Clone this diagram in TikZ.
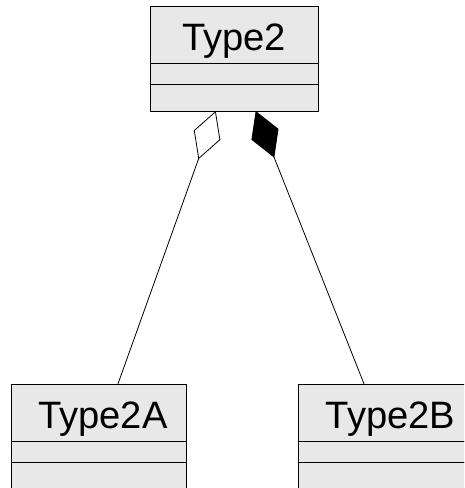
\documentclass[tikz,border=0pt]{standalone}
\usepackage{fontspec}
\setmainfont{Liberation Sans}
\usetikzlibrary{positioning,arrows.meta}
\definecolor{boxgray}{RGB}{232,232,232}

\begin{document}
\begin{tikzpicture}[
    classname/.style={draw, fill=boxgray, line width=0.8pt, outer sep=0pt, inner sep=0pt,
      minimum height=1.995cm, text height=1.1cm, text depth=0cm, font=\fontsize{38}{40}\selectfont},
    attrs/.style={draw, fill=boxgray, line width=0.8pt, outer sep=0pt, minimum height=0.735cm},
    ops/.style={draw, fill=boxgray, line width=0.8pt, outer sep=0pt, minimum height=0.945cm}
  ]
    \clip (0, 0) rectangle (16.24, 17.08);

    \node[classname, minimum width=5.88cm] (T) at (8.19, 15.8725) {Type2};
    \node[attrs, minimum width=5.88cm, below=0pt of T] (Tatt) {};
    \node[ops, minimum width=5.88cm, below=0pt of Tatt] (Tops) {};

    \node[classname, minimum width=6.125cm] (TA) at (3.4475, 2.6425) {\hspace*{0.3cm}Type2A};
    \node[attrs, minimum width=6.125cm, below=0pt of TA] (TAatt) {};
    \node[ops, minimum width=6.125cm, below=0pt of TAatt] (TAops) {};

    \node[classname, minimum width=6.125cm] (TB) at (13.4925, 2.6425) {\hspace*{0.35cm}Type2B};
    \node[attrs, minimum width=6.125cm, below=0pt of TB] (TBatt) {};
    \node[ops, minimum width=6.125cm, below=0pt of TBatt] (TBops) {};

    % Diamonds
    \draw[line width=0.8pt, {Diamond[open, length=51pt, width=28pt]}-]
      ([xshift=-0.64cm]Tops.south) -- ([xshift=0.68cm]TA.north);
    \draw[line width=0.8pt, {Diamond[length=50pt, width=29pt]}-]
      ([xshift=0.76cm]Tops.south) -- ([xshift=-0.75cm]TB.north);

  \end{tikzpicture}
\end{document}
